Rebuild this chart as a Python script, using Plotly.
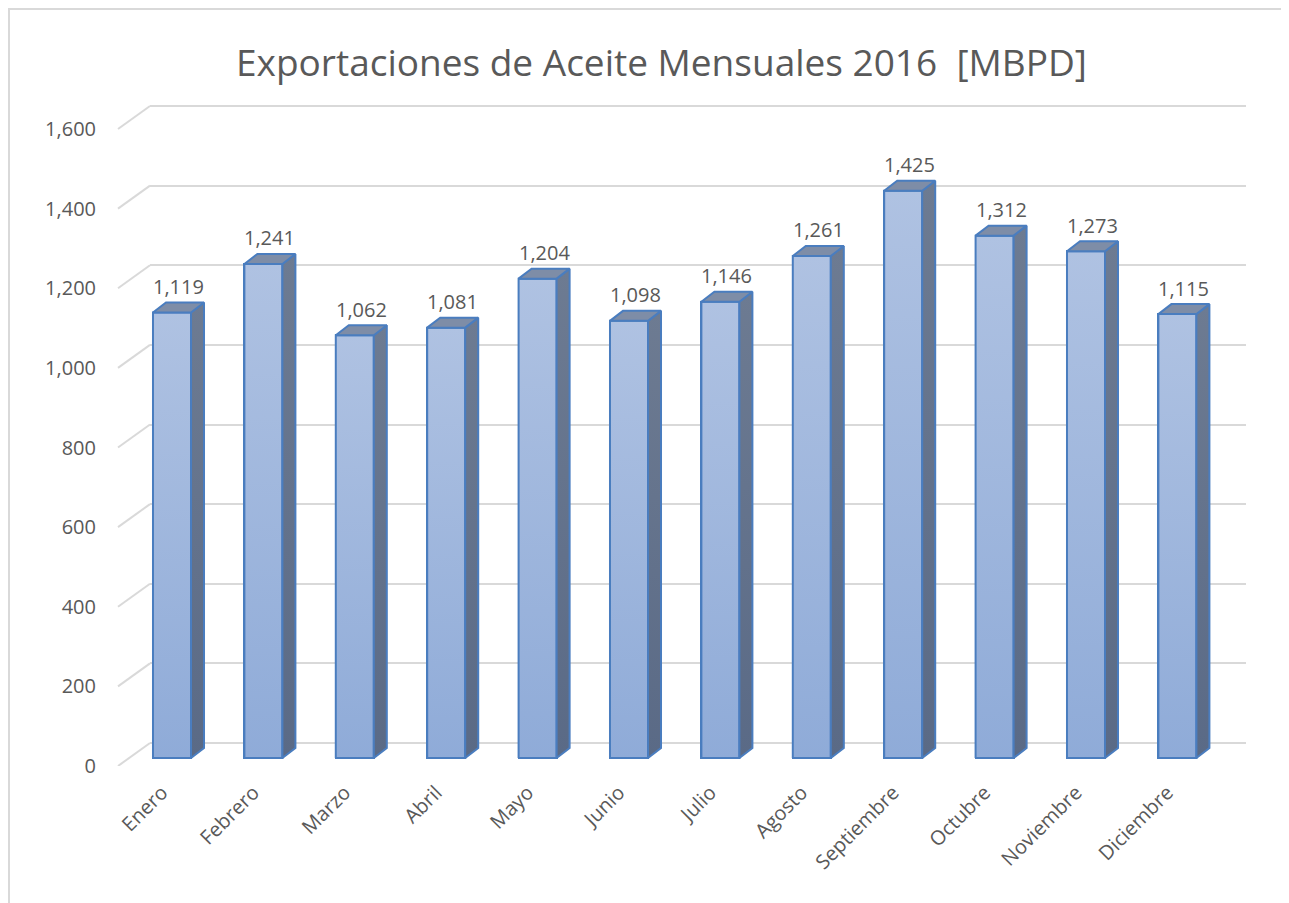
import plotly.graph_objects as go

# ---------------- data ----------------
months = ["Enero", "Febrero", "Marzo", "Abril", "Mayo", "Junio", "Julio",
          "Agosto", "Septiembre", "Octubre", "Noviembre", "Diciembre"]
exports = [1119, 1241, 1062, 1081, 1204, 1098, 1146, 1261, 1425, 1312, 1273, 1115]
y_ticks = [0, 200, 400, 600, 800, 1000, 1200, 1400, 1600]
title_text = "Exportaciones de Aceite Mensuales 2016  [MBPD]"

# ---------------- layout constants (pixels, figure coordinates) ----------------
W, H = 1289, 903
OFF = 8                          # page body margin
PLOT_L, PLOT_R = 150 - OFF, 1246 - OFF
PLOT_T, PLOT_B = 95 - OFF, 766 - OFF
FRONT_LEFT = 118 - OFF
PPU = (766 - 129) / 1600         # pixels per value unit
Z_BARS, Z_GRID, Z_LABELS = 758 - OFF, 743 - OFF, 766 - OFF
CAT0_PX, CAT_STEP = 172 - OFF, 91.4

BAR_W = 0.416                    # bar width in category units
DX = 13 / CAT_STEP               # 3D depth offset (category units)
DY = 10 / PPU                    # 3D depth offset (value units)

FRONT_COL = "#a0b6dd"
FRONT_TOP, FRONT_BOT = "#afc2e2", "#8fabd8"
SIDE_TOP, SIDE_BOT = "#6d7b92", "#5a6a86"
TOP_COL = "#7e8da7"
EDGE_COL = "#4a7dbf"
GRID_COL = "#d9d9d9"
TEXT_COL = "#595959"
FONT = "Open Sans"


def yrange(zero_px):
    return [(zero_px - PLOT_B) / PPU, (zero_px - PLOT_T) / PPU]


x_range = [(PLOT_L - CAT0_PX) / CAT_STEP, (PLOT_R - CAT0_PX) / CAT_STEP]
idx = list(range(len(months)))

fig = go.Figure()

# front faces (bars)
fig.add_trace(go.Bar(
    x=idx, y=exports, width=BAR_W,
    marker=dict(color=FRONT_COL, line=dict(color=EDGE_COL, width=2)),
    hoverinfo="skip", showlegend=False,
))

for i, v in zip(idx, exports):
    l, r = i - BAR_W / 2, i + BAR_W / 2
    # gradient shading of the front face
    fig.add_trace(go.Scatter(
        x=[l, r, r, l, l], y=[0, 0, v, v, 0], mode="lines", fill="toself",
        fillgradient=dict(type="vertical", colorscale=[[0, FRONT_BOT], [1, FRONT_TOP]]),
        line=dict(color=EDGE_COL, width=2), hoverinfo="skip", showlegend=False,
    ))
    # side face
    fig.add_trace(go.Scatter(
        x=[r, r + DX, r + DX, r, r], y=[0, DY, v + DY, v, 0],
        mode="lines", fill="toself",
        fillgradient=dict(type="vertical", colorscale=[[0, SIDE_BOT], [1, SIDE_TOP]]),
        line=dict(color=EDGE_COL, width=2), hoverinfo="skip", showlegend=False,
    ))
    # top face
    fig.add_trace(go.Scatter(
        x=[l, l + DX, r + DX, r, l], y=[v, v + DY, v + DY, v, v],
        mode="lines", fill="toself", fillcolor=TOP_COL,
        line=dict(color=EDGE_COL, width=2), hoverinfo="skip", showlegend=False,
    ))
    # data label
    fig.add_annotation(
        x=i + DX / 2, y=v + DY, xref="x", yref="y",
        text=f"{v:,}", showarrow=False, yanchor="middle", yshift=16,
        font=dict(family=FONT, size=20, color=TEXT_COL),
    )

# slanted floor/wall connectors for gridlines
for t in y_ticks:
    fig.add_shape(
        type="line", xref="paper", yref="y2",
        x0=FRONT_LEFT / W, x1=PLOT_L / W,
        y0=t - (Z_LABELS - Z_GRID) / PPU, y1=t,
        line=dict(color=GRID_COL, width=2), layer="below",
    )

# chart border
fig.add_shape(type="rect", xref="paper", yref="paper",
              x0=1 / W, x1=1.02, y0=-0.02, y1=1 - 1 / H,
              line=dict(color=GRID_COL, width=2), layer="below")

# title
fig.add_annotation(
    x=(661 - OFF) / W, y=1 - (62 - OFF) / H, xref="paper", yref="paper",
    text=title_text, showarrow=False, xanchor="center", yanchor="middle",
    font=dict(family=FONT, size=37, color=TEXT_COL),
)

dom_y = [1 - PLOT_B / H, 1 - PLOT_T / H]

fig.update_layout(
    width=W, height=H,
    margin=dict(l=0, r=0, t=0, b=0),
    paper_bgcolor="white", plot_bgcolor="rgba(0,0,0,0)",
    font=dict(family=FONT, color=TEXT_COL),
    bargap=0,
    xaxis=dict(
        domain=[PLOT_L / W, PLOT_R / W], range=x_range,
        tickmode="array", tickvals=idx, ticktext=months, tickangle=-45,
        ticks="outside", ticklen=6, tickcolor="rgba(0,0,0,0)",
        ticklabelshift=-10,
        showgrid=False, zeroline=False, showline=False,
        tickfont=dict(family=FONT, size=20, color=TEXT_COL),
        automargin=False, fixedrange=True,
    ),
    yaxis=dict(
        domain=dom_y, range=yrange(Z_BARS),
        showgrid=False, zeroline=False, showticklabels=False, showline=False,
        automargin=False,
    ),
    yaxis2=dict(
        overlaying="y", anchor="x", range=yrange(Z_GRID),
        tickmode="array", tickvals=y_ticks,
        showgrid=True, gridcolor=GRID_COL, gridwidth=2,
        zeroline=True, zerolinecolor=GRID_COL, zerolinewidth=2,
        showticklabels=False, showline=False, automargin=False,
    ),
    yaxis3=dict(
        overlaying="y", anchor="free", position=FRONT_LEFT / W,
        range=yrange(Z_LABELS),
        tickmode="array", tickvals=y_ticks, tickformat=",",
        ticks="outside", ticklen=18, tickcolor="rgba(0,0,0,0)",
        showgrid=False, zeroline=False, showline=False,
        tickfont=dict(family=FONT, size=20, color=TEXT_COL),
        automargin=False,
    ),
)

# dummy traces to activate the extra axes
fig.add_trace(go.Scatter(x=[None], y=[None], yaxis="y3", showlegend=False, hoverinfo="skip"))
fig.add_trace(go.Scatter(x=[None], y=[None], yaxis="y2", showlegend=False, hoverinfo="skip"))

fig.write_html("out.html")
